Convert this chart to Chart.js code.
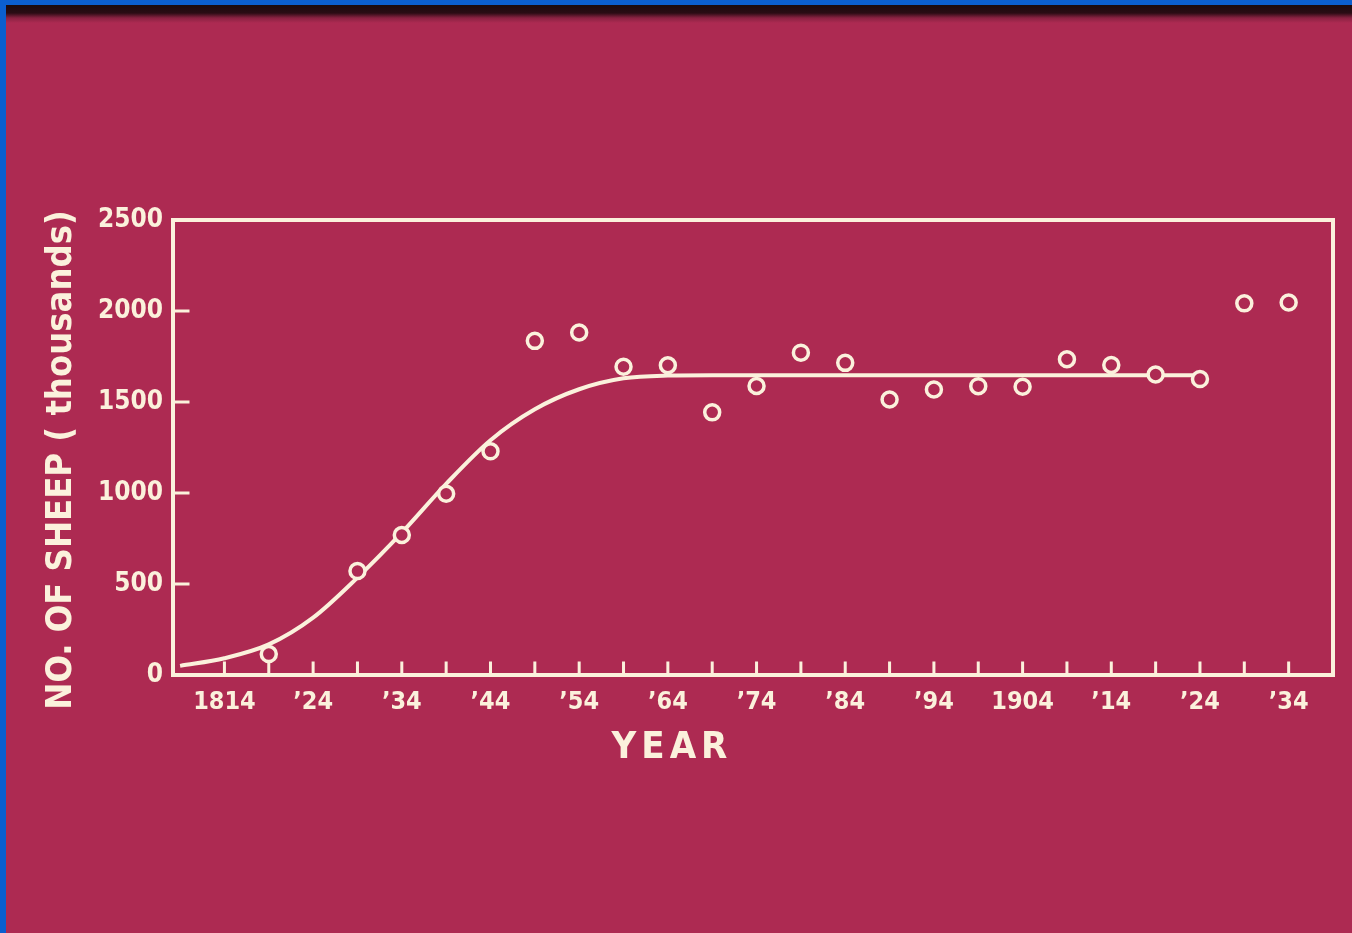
<!DOCTYPE html>
<html>
<head>
<meta charset="utf-8">
<title>No. of sheep</title>
<script src="https://cdn.jsdelivr.net/npm/chart.js@4.4.1/dist/chart.umd.min.js"></script>
<style>
  html, body { margin: 0; padding: 0; width: 1352px; height: 933px; overflow: hidden; background: #0b5fcf; }
  #slide {
    position: absolute; left: 6px; top: 5px; width: 1346px; height: 928px;
    background: linear-gradient(to bottom, #1a0a0d 0px, #2a0c14 8px, #8a2242 13px, #ad2a52 18px, #ad2a52 100%);
  }
  #chart { position: absolute; left: 0; top: 0; }
</style>
</head>
<body>
<div id="slide"></div>
<canvas id="chart" width="1352" height="933"></canvas>
<script>
// ─── Data ─────────────────────────────────────────────
const pointYears = [1819, 1829, 1834, 1839, 1844, 1849, 1854, 1859, 1864, 1869, 1874, 1879,
                    1884, 1889, 1894, 1899, 1904, 1909, 1914, 1919, 1924, 1929, 1934];
const sheepCounts = [115, 571, 769, 996, 1229, 1836, 1882, 1694, 1702, 1443, 1588, 1771,
                     1715, 1514, 1569, 1587, 1584, 1735, 1703, 1651, 1626, 2042, 2047];

// fitted curve, every 5 years
const curveYears = [1809, 1814, 1819, 1824, 1829, 1834, 1839, 1844, 1849, 1854, 1859, 1864,
                    1869, 1874, 1879, 1884, 1889, 1894, 1899, 1904, 1909, 1914, 1919, 1924];
const curveValues = [50, 92, 168, 315, 535, 782, 1050, 1290, 1460, 1570, 1630, 1645,
                     1647, 1647, 1647, 1647, 1647, 1647, 1647, 1647, 1647, 1647, 1647, 1647];

const yearTicks = [1814, 1819, 1824, 1829, 1834, 1839, 1844, 1849, 1854, 1859, 1864, 1869, 1874,
                   1879, 1884, 1889, 1894, 1899, 1904, 1909, 1914, 1919, 1924, 1929, 1934];
const yearLabels = ["1814", "", "\u201924", "", "\u201934", "", "\u201944", "", "\u201954", "", "\u201964", "", "\u201974",
                    "", "\u201984", "", "\u201994", "", "1904", "", "\u201914", "", "\u201924", "", "\u201934"];
const sheepTicks = [0, 500, 1000, 1500, 2000, 2500];

// ─── Styling ──────────────────────────────────────────
const INK = "#fbf1dc";
const BG = "#ad2a52";
const FONT = "'DejaVu Sans Condensed', 'DejaVu Sans', sans-serif";

// frame + inward tick marks, drawn from the scales
const framePlugin = {
  id: "frame",
  beforeDatasetsDraw(chart) {
    const { ctx, chartArea: a, scales: { x, y } } = chart;
    ctx.save();
    ctx.strokeStyle = INK;
    ctx.lineWidth = 4;
    ctx.lineCap = "square";
    ctx.strokeRect(a.left, a.top, a.right - a.left, a.bottom - a.top);
    ctx.lineWidth = 3;
    ctx.beginPath();
    yearTicks.forEach(v => {
      const px = x.getPixelForValue(v);
      ctx.moveTo(px, a.bottom);
      ctx.lineTo(px, a.bottom - 12);
    });
    sheepTicks.forEach(v => {
      const py = y.getPixelForValue(v);
      ctx.moveTo(a.left, py);
      ctx.lineTo(a.left + 15, py);
    });
    ctx.stroke();
    ctx.restore();
  }
};

// axis titles (placed as on the slide, not centred on the plot)
const titlePlugin = {
  id: "titles",
  afterDraw(chart) {
    const { ctx } = chart;
    ctx.save();
    ctx.fillStyle = INK;
    ctx.textAlign = "center";
    ctx.textBaseline = "middle";
    ctx.font = "bold 36px " + FONT;
    ctx.translate(62, 460);
    ctx.rotate(-Math.PI / 2);
    ctx.fillText("NO. OF SHEEP ( thousands)", 0, 0);
    ctx.restore();

    ctx.save();
    ctx.fillStyle = INK;
    ctx.textAlign = "center";
    ctx.textBaseline = "middle";
    ctx.font = "bold 38px " + FONT;
    if ("letterSpacing" in ctx) ctx.letterSpacing = "5px";
    ctx.fillText("YEAR", 672, 748);
    ctx.restore();
  }
};

new Chart(document.getElementById("chart"), {
  type: "scatter",
  data: {
    datasets: [
      {
        label: "Sheep",
        data: pointYears.map((yr, i) => ({ x: yr, y: sheepCounts[i] })),
        pointStyle: "circle",
        pointRadius: 7.5,
        pointBorderWidth: 3.5,
        pointBorderColor: INK,
        pointBackgroundColor: BG,
        showLine: false,
      },
      {
        label: "Fitted curve",
        data: curveYears.map((yr, i) => ({ x: yr, y: curveValues[i] })),
        showLine: true,
        borderColor: INK,
        borderWidth: 4,
        pointRadius: 0,
        cubicInterpolationMode: "monotone",
        fill: false,
      },
    ],
  },
  options: {
    responsive: false,
    animation: false,
    layout: { padding: { top: 220, right: 19, left: 0, bottom: 0 } },
    plugins: { legend: { display: false }, tooltip: { enabled: false } },
    scales: {
      x: {
        type: "linear",
        min: 1808.2,
        max: 1939,
        grid: { display: false, drawTicks: false },
        border: { display: false },
        afterBuildTicks: s => { s.ticks = yearTicks.map(v => ({ value: v })); },
        afterFit: s => { s.height = 933 - 675; },
        ticks: {
          autoSkip: false,
          maxRotation: 0,
          padding: 12,
          color: INK,
          font: { family: FONT, size: 25, weight: "bold" },
          callback: (v, i) => yearLabels[i],
        },
      },
      y: {
        min: 0,
        max: 2500,
        grid: { display: false, drawTicks: false },
        border: { display: false },
        afterBuildTicks: s => { s.ticks = sheepTicks.map(v => ({ value: v })); },
        afterFit: s => { s.width = 173; },
        ticks: {
          padding: 10,
          color: INK,
          font: { family: FONT, size: 26, weight: "bold" },
          callback: v => String(v),
        },
      },
    },
  },
  plugins: [framePlugin, titlePlugin],
});
</script>
</body>
</html>
